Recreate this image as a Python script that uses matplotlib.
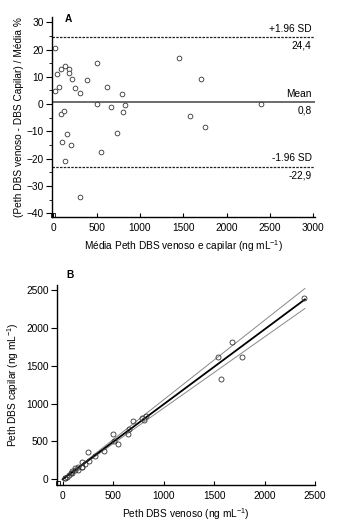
import numpy as np
import matplotlib
matplotlib.use("Agg")
import matplotlib.pyplot as plt
from matplotlib.ticker import MultipleLocator

plt.rcParams['font.family'] = ['Liberation Sans', 'DejaVu Sans']
plt.rcParams['font.size'] = 7.3
plt.rcParams['mathtext.fontset'] = 'custom'
plt.rcParams['mathtext.rm'] = 'Liberation Sans'
plt.rcParams['mathtext.default'] = 'rm'

# Panel A: Bland-Altman (mean vs % difference)
ba_mean = [19, 38, 19, 65, 85, 138, 181, 177, 215, 254, 312, 392, 508, 504, 623, 665, 792,
           800, 831, 88, 127, 158, 100, 208, 138, 304, 546, 735, 1450, 1700, 1577, 1746, 2392]
ba_diff = [20.4, 10.9, 4.8, 6.4, 12.7, 13.9, 12.8, 11.3, 9.2, 5.8, 4.1, 8.8, 15.1, -0.1, 6.3, -0.9, 3.8,
           -2.7, -0.3, -3.7, -2.5, -10.9, -14.0, -14.9, -20.8, -34.0, -17.4, -10.5, 16.9, 9.3, -4.5, -8.3, 0.2]
bias = 0.8
loa_upper = 24.4
loa_lower = -22.9

# Panel B: venoso vs capilar
venoso = [21, 40, 20, 67, 90, 148, 193, 187, 225, 261, 318, 409, 546, 504, 643, 662, 807,
          789, 830, 86, 125, 149, 93, 193, 124, 252, 499, 696, 1573, 1779, 1542, 1674, 2394]
capilar = [17, 36, 19, 63, 80, 128, 169, 167, 205, 247, 306, 375, 470, 504, 603, 668, 777,
           811, 832, 90, 129, 167, 107, 224, 152, 356, 594, 774, 1328, 1621, 1613, 1819, 2390]
fit_x = [0, 2400]
fit_slope = 0.99
band_upper_slope = 1.05
band_lower_slope = 0.94

fig = plt.figure(figsize=(3.38, 5.22), dpi=100)
W, H = 338, 522

def style(ax):
    for s in ['top', 'right']:
        ax.spines[s].set_visible(False)
    for s in ['left', 'bottom']:
        ax.spines[s].set_linewidth(1.0)
    ax.tick_params(axis='y', which='major', direction='out', length=4, width=0.8, pad=2)
    ax.tick_params(axis='y', which='minor', direction='out', length=2.5, width=0.6)
    ax.tick_params(axis='x', which='major', direction='in', length=3, width=0.8, pad=4)
    ax.plot([0.004], [0.012], 's', ms=3, mfc='none', mec='k', mew=0.6,
            transform=ax.transAxes, clip_on=False)

# ---- A ----
axA = fig.add_axes([52 / W, 1 - 217 / H, (315 - 52) / W, (217 - 17) / H])
style(axA)
axA.set_xlim(-15, 3019)
axA.set_ylim(-41.3, 31.9)
axA.plot(ba_mean, ba_diff, 'o', ms=3.4, mfc='white', mec='#333333', mew=0.6)
axA.axhline(bias, color='#444444', lw=1.1)
axA.axhline(loa_upper, color='#222222', lw=0.9, dashes=(2, 1))
axA.axhline(loa_lower, color='#222222', lw=0.9, dashes=(2, 1))
axA.text(2980, loa_upper + 1.2, '+1.96 SD', ha='right', va='bottom')
axA.text(2980, loa_upper - 1.2, '24,4', ha='right', va='top')
axA.text(2980, bias + 1.2, 'Mean', ha='right', va='bottom')
axA.text(2980, bias - 1.2, '0,8', ha='right', va='top')
axA.text(2980, loa_lower + 1.2, '-1.96 SD', ha='right', va='bottom')
axA.text(2980, loa_lower - 1.2, '-22,9', ha='right', va='top')
axA.set_xticks(np.arange(0, 3001, 500))
axA.set_yticks(np.arange(-40, 31, 10))
axA.yaxis.set_minor_locator(MultipleLocator(5))
axA.text(173, 31.3, 'A', fontweight='bold', ha='center', va='center')
axA.set_xlabel('Média Peth DBS venoso e capilar (ng mL$^{-1}$)', labelpad=4)
axA.set_ylabel('(Peth DBS venoso - DBS Capilar) / Média %', labelpad=2)

# ---- B ----
axB = fig.add_axes([57 / W, 1 - 485 / H, (315 - 57) / W, (485 - 285) / H])
style(axB)
axB.set_xlim(-56, 2500)
axB.set_ylim(-75, 2566)
xs = np.array(fit_x, dtype=float)
axB.plot(xs, band_upper_slope * xs, color='#888888', lw=0.7)
axB.plot(xs, band_lower_slope * xs, color='#888888', lw=0.7)
axB.plot(xs, fit_slope * xs, color='black', lw=1.3)
axB.plot(venoso, capilar, 'o', ms=3.6, mfc='none', mec='#333333', mew=0.6)
axB.set_xticks(np.arange(0, 2501, 500))
axB.set_yticks(np.arange(0, 2501, 500))
axB.text(0.05, 1.05, 'B', fontweight='bold', ha='center', va='center', transform=axB.transAxes)
axB.set_xlabel('Peth DBS venoso (ng mL$^{-1}$)', labelpad=4)
axB.set_ylabel('Peth DBS capilar (ng mL$^{-1}$)', labelpad=4)

fig.savefig('out.png', dpi=100)
